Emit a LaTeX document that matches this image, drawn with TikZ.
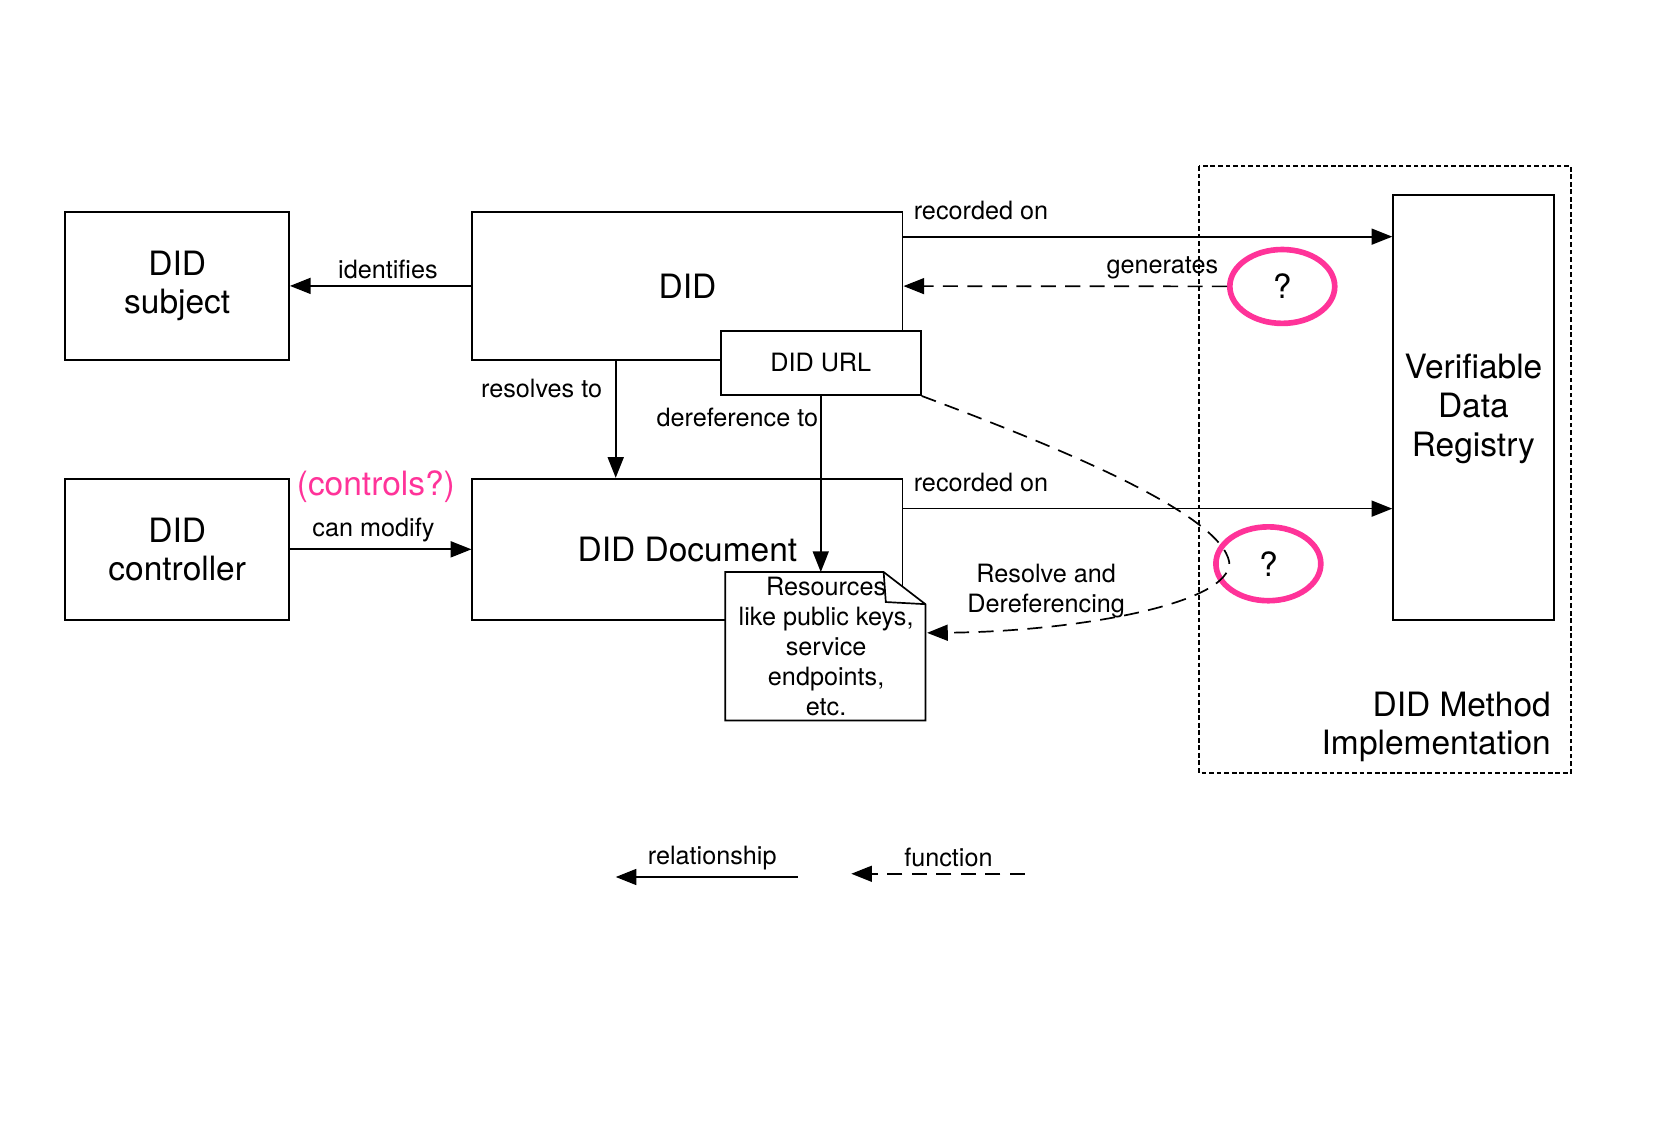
\documentclass[tikz,border=0pt]{standalone}
\usepackage{fontspec}
\setmainfont{TeX Gyre Heros}
\usetikzlibrary{arrows.meta,shapes.geometric}
\definecolor{didpink}{RGB}{255,51,153}

\begin{document}
\begin{tikzpicture}[x=0.02cm,y=-0.02cm,line width=0.9pt,
    bigtxt/.style={font=\fontsize{17.8}{20.5}\selectfont,align=center},
    smalltxt/.style={font=\fontsize{13.4}{15.9}\selectfont,align=center},
    entity/.style={draw,bigtxt,inner sep=0pt},
    rel/.style={-{Triangle[length=11pt,width=8.5pt]}},
    fun/.style={rel,dash pattern=on 8pt off 5pt},
    qmark/.style={ellipse,draw=didpink,line width=3pt,minimum width=1.96cm,minimum height=1.38cm,inner sep=0pt,bigtxt}]
  \useasboundingbox (0,0) rectangle (1568,1046);

  % method implementation frame
  \draw[dash pattern=on 2.5pt off 1.5pt] (1120,155) rectangle (1467,722);
  \node[bigtxt,align=right,anchor=east,inner sep=0pt] (impl) at (1449,679) {DID Method\\Implementation};

  \node[entity,minimum width=4.18cm,minimum height=2.76cm] (subject) at (165.5,267) {DID\\subject};
  \node[entity,minimum width=8.04cm,minimum height=2.76cm] (did) at (642,267) {DID};
  \node[entity,minimum width=4.18cm,minimum height=2.64cm] (ctrl) at (165.5,513) {DID\\controller};
  \node[entity,minimum width=8.04cm,minimum height=2.64cm] (doc) at (642,513) {DID Document};
  \node[entity,minimum width=3cm,minimum height=7.94cm,text depth=0.08cm] (vdr) at (1376,380.5) {Verifiable\\Data\\Registry};
  \node[entity,smalltxt,fill=white,minimum width=3.74cm,minimum height=1.2cm] (url) at (766.5,339) {DID URL};

  % resources note with folded corner
  \node[minimum width=3.74cm,minimum height=2.74cm,inner sep=0pt] (res) at (771.5,603.5) {};
  \draw[fill=white] (res.north west) -- ++(148,0) -- ++(39,30) |- (res.south west) -- cycle;
  \draw (res.north west) ++(148,0) -- ++(2,28) -- ++(37,2);
  \node[smalltxt] (restxt) at (res) {Resources\\like public keys,\\service\\endpoints,\\etc.};

  \node[qmark] (q1) at (1197.5,267.5) {?};
  \node[qmark] (q2) at (1184.5,526.5) {?};

  \draw[rel] (did) -- node[smalltxt,above,pos=0.46] {identifies} (subject);
  \draw[rel] ([xshift=-1.34cm]did.south) -- node[smalltxt,left,pos=0.24,inner sep=0.24cm] {resolves to} ([xshift=-1.34cm]doc.north);
  \draw[rel] (url.south) -- node[smalltxt,left,pos=0.12,inner sep=1pt] {dereference to} (url.south |- res.north);

  \coordinate (rec1) at ([yshift=0.92cm]did.east);
  \draw[rel] (rec1) -- (rec1 -| vdr.west) node[pos=0,smalltxt,above right,yshift=0.18cm,xshift=0.06cm] {recorded on};
  \coordinate (rec2) at ([yshift=0.76cm]doc.east);
  \draw[rel] (rec2) -- (rec2 -| vdr.west) node[pos=0,smalltxt,above right,yshift=0.18cm,xshift=0.06cm] {recorded on};

  \draw[fun] (q1) -- node[smalltxt,above,pos=0.2] {generates} (did);

  \draw[rel] (ctrl) -- node[smalltxt,above,pos=0.46] (canmod) {can modify} (doc);
  \node[bigtxt,text=didpink] (controls) at (351,454) {(controls?)};

  \draw[fun] (url.south east) .. controls (990,418) and (1140,480) .. (1148,525)
    .. controls (1150,565) and (1000,590) .. ([yshift=0.25cm]res.east);
  \node[smalltxt] (resolve) at (977,552) {Resolve and\\Dereferencing};

  % legend
  \coordinate (legA) at (745,819);
  \coordinate (legB) at (575,819);
  \draw[rel] (legA) -- node[smalltxt,above,pos=0.47] {relationship} (legB);
  \coordinate (funA) at (957,816);
  \coordinate (funB) at (795,816);
  \draw[fun] (funA) -- node[smalltxt,above,pos=0.44] {function} (funB);
\end{tikzpicture}
\end{document}
